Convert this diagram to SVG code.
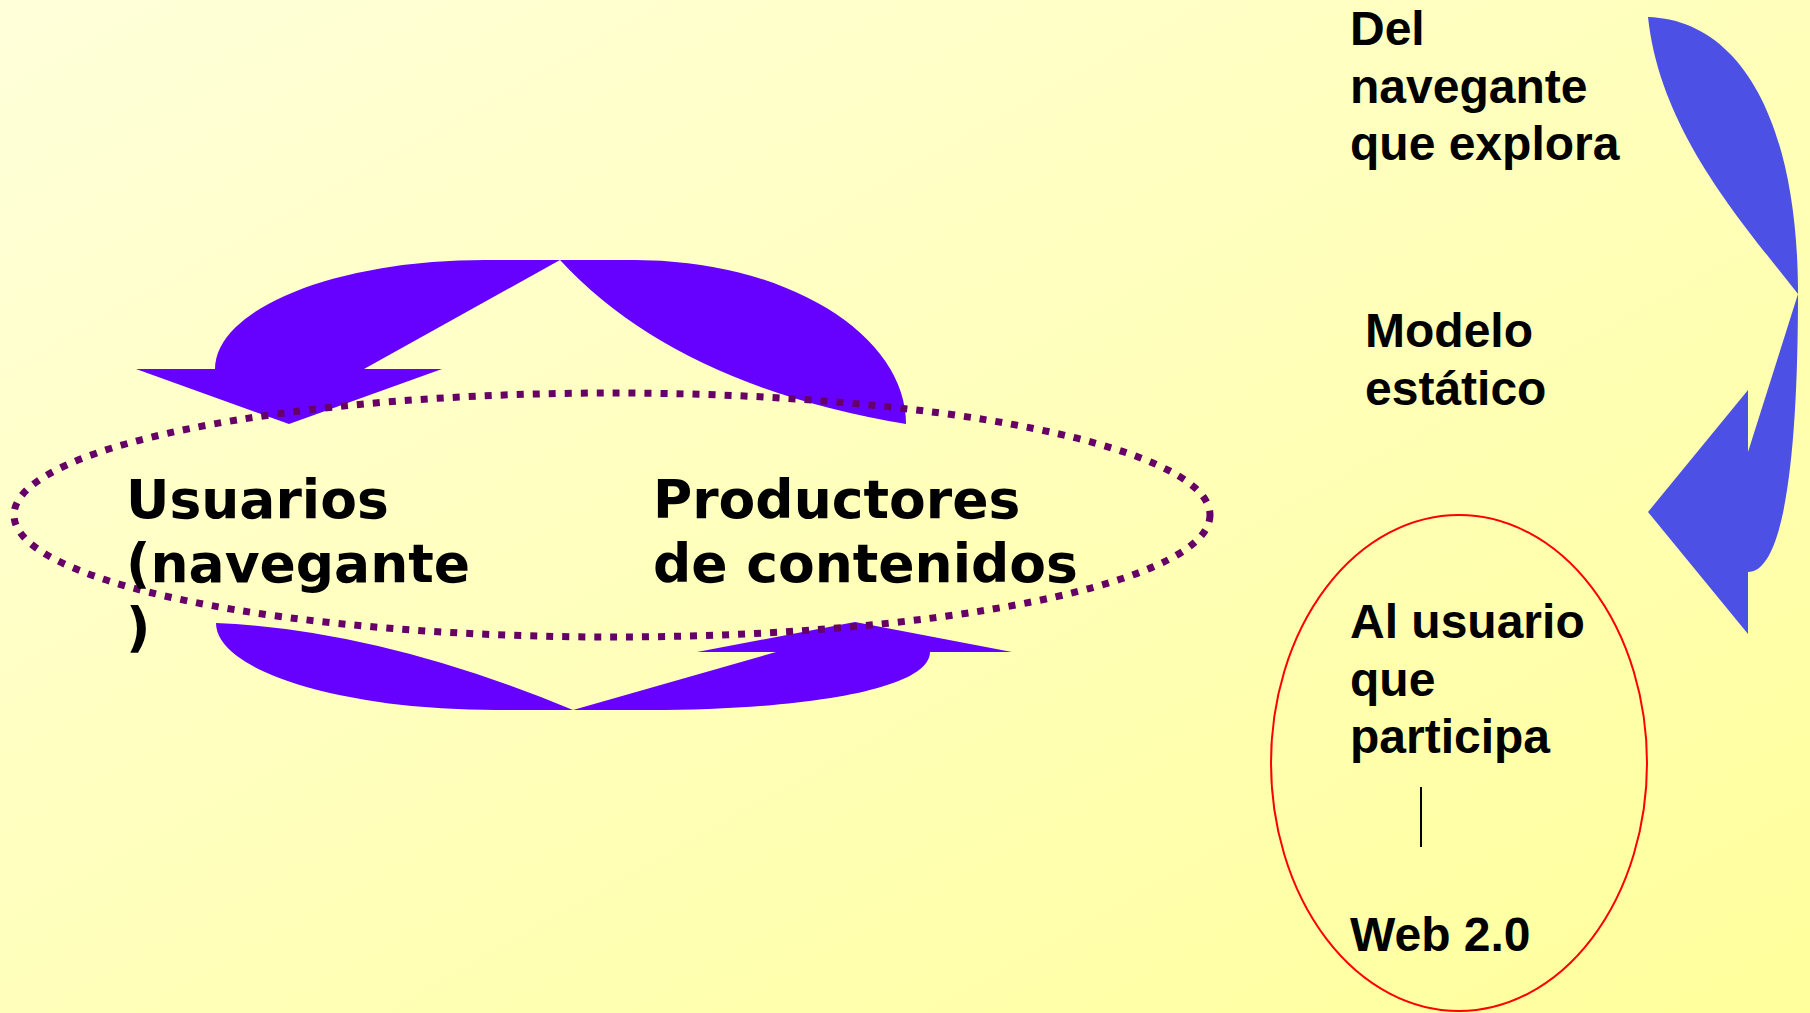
<svg xmlns="http://www.w3.org/2000/svg" width="1810" height="1013" viewBox="0 0 1810 1013">
  <defs>
    <linearGradient id="bg" x1="0" y1="0" x2="1" y2="1">
      <stop offset="0" stop-color="#FFFFDA"/>
      <stop offset="1" stop-color="#FFFF9C"/>
    </linearGradient>
  </defs>
  <style>
    .lt { font-family: "DejaVu Sans", sans-serif; font-weight: bold; font-size: 53.5px; fill: #000; }
    .rt { font-family: "Liberation Sans", Arial, sans-serif; font-weight: bold; font-size: 48px; fill: #000; }
    .purple { fill: #6600FF; }
    .blue { fill: #4C50E4; }
  </style>
  <rect x="0" y="0" width="1810" height="1013" fill="url(#bg)"/>

  <g id="connectors">
    <path id="arrow-top" class="purple" d="M 215,369 A 270 109 0 0 1 485,260 L 635,260 A 271 164 0 0 1 906,424 Q 675,385 560,260 L 364,369 L 442,369 L 289,424 L 136,369 Z"/>
    <path id="arrow-bottom" class="purple" d="M 216,623 A 280 87 0 0 0 496,710 L 650,710 C 800,710 930,690 930,652 L 1012,652 L 855,622 L 697,652 L 776,652 L 573,710 Q 380,630 216,623 Z"/>
    <path id="arrow-right" class="blue" d="M 1648,17 C 1740,20 1798,120 1798,294 C 1798,450 1785,572 1748,572 L 1748,634 L 1648,512 L 1748,390 L 1748,452 L 1798,294 C 1740,220 1660,130 1648,17 Z"/>
  </g>

  <g id="cycle">
    <ellipse cx="612" cy="515" rx="598" ry="122" fill="none" stroke="#660066" stroke-width="7" stroke-dasharray="7 9"/>
  </g>

  <g id="usuarios">
    <text class="lt" x="126" y="518">Usuarios</text>
    <text class="lt" x="126" y="582">(navegante</text>
    <text class="lt" x="126" y="646">)</text>
  </g>

  <g id="productores">
    <text class="lt" x="653" y="518">Productores</text>
    <text class="lt" x="653" y="582">de contenidos</text>
  </g>

  <g id="del-navegante">
    <text class="rt" x="1350" y="45">Del</text>
    <text class="rt" x="1350" y="102.5">navegante</text>
    <text class="rt" x="1350" y="160">que explora</text>
  </g>

  <g id="modelo">
    <text class="rt" x="1365" y="347">Modelo</text>
    <text class="rt" x="1365" y="404.5">estático</text>
  </g>

  <g id="web20">
    <ellipse cx="1459" cy="763" rx="188" ry="248" fill="none" stroke="#FF0000" stroke-width="2"/>
    <text class="rt" x="1350" y="638">Al usuario</text>
    <text class="rt" x="1350" y="695.5">que</text>
    <text class="rt" x="1350" y="753">participa</text>
    <line x1="1421" y1="787" x2="1421" y2="847" stroke="#000" stroke-width="2"/>
    <text class="rt" x="1350" y="951">Web 2.0</text>
  </g>
</svg>
